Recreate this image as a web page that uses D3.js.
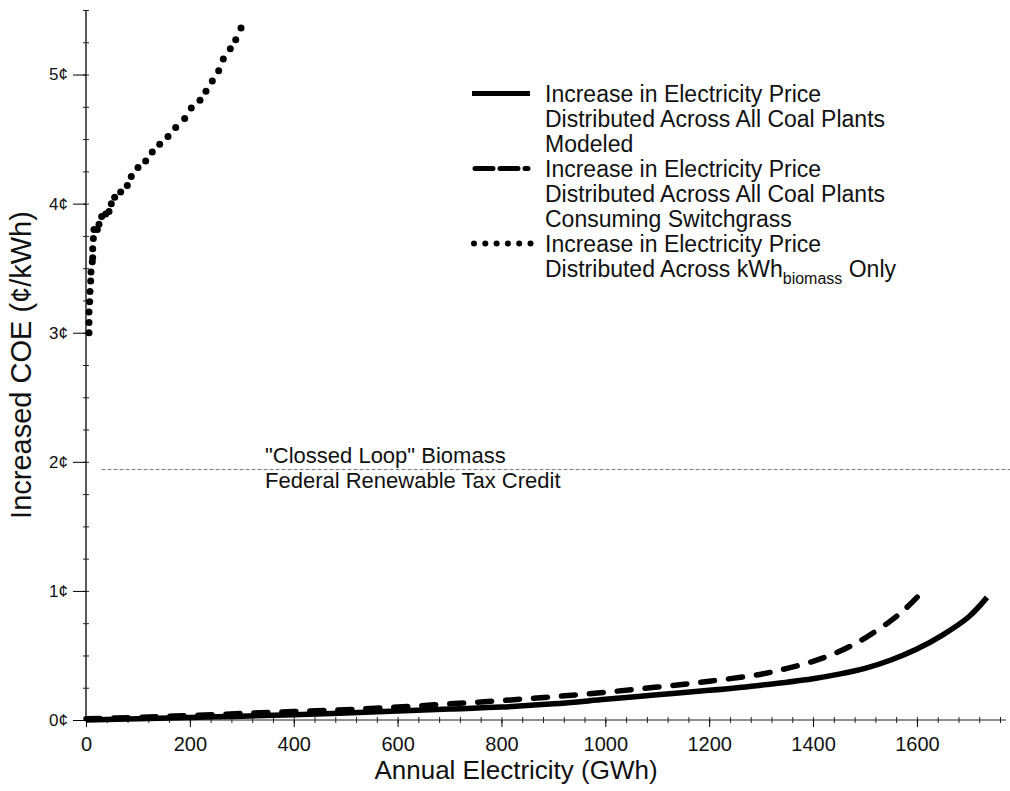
<!DOCTYPE html>
<html>
<head>
<meta charset="utf-8">
<script src="https://cdn.jsdelivr.net/npm/d3@7"></script>
<style>
  body { margin: 0; background: #fff; }
  svg, svg text { font-family: "Liberation Sans", Arial, sans-serif; }
</style>
</head>
<body>
<div class="chart"></div>
<script>
// increase in price spread over all coal plants modeled (solid)
const allPlantsGWh = [0, 100, 200, 300, 400, 500, 600, 700, 800, 900, 1000, 1100, 1200, 1300, 1400, 1450, 1500, 1550, 1600, 1650, 1700, 1735];
const allPlantsCOE = [0, 0.01, 0.02, 0.03, 0.04, 0.055, 0.07, 0.085, 0.10, 0.125, 0.16, 0.195, 0.23, 0.27, 0.32, 0.355, 0.40, 0.465, 0.55, 0.66, 0.80, 0.95];

// spread over coal plants consuming switchgrass (dashed)
const switchGWh = [0, 100, 200, 300, 400, 500, 600, 700, 800, 900, 1000, 1100, 1200, 1300, 1350, 1400, 1450, 1500, 1550, 1580, 1612];
const switchCOE = [0.01, 0.02, 0.035, 0.05, 0.065, 0.08, 0.10, 0.125, 0.15, 0.18, 0.215, 0.255, 0.30, 0.355, 0.40, 0.455, 0.53, 0.635, 0.77, 0.87, 1.0];

// spread over kWh from biomass only (dots)
const biomassGWh = [5.8, 5.8, 5.8, 7.1, 7.7, 9.0, 9.6, 12.1, 12.9, 12.9, 14.1, 15.4, 21.8, 25.0, 30.2, 37.9, 44.3, 48.7, 55.2, 66.8, 79.5, 87.2, 100.1, 114.9, 127.6, 141.9, 157.9, 172.7, 190.0, 202.7, 219.5, 231.0, 243.2, 255.5, 264.4, 277.9, 288.3, 298.5];
const biomassCOE = [3.00, 3.08, 3.16, 3.24, 3.32, 3.40, 3.47, 3.55, 3.58, 3.65, 3.73, 3.80, 3.80, 3.84, 3.90, 3.92, 3.94, 4.00, 4.05, 4.09, 4.14, 4.21, 4.28, 4.33, 4.40, 4.46, 4.52, 4.59, 4.66, 4.74, 4.80, 4.87, 4.95, 5.03, 5.12, 5.20, 5.27, 5.36];

const taxCredit = 1.94;
const taxCreditStart = 30;
const taxCreditLabel = ['"Clossed Loop" Biomass', 'Federal Renewable Tax Credit'];

const xTicks = [0, 200, 400, 600, 800, 1000, 1200, 1400, 1600];
const yTicks = [0, 1, 2, 3, 4, 5];

const legendLabels = [
  ["Increase in Electricity Price", "Distributed Across All Coal Plants", "Modeled"],
  ["Increase in Electricity Price", "Distributed Across All Coal Plants", "Consuming Switchgrass"],
  ["Increase in Electricity Price", "Distributed Across kWh"]
];

const width = 1010, height = 791;

const svg = d3.select(".chart")
  .append("svg")
  .attr("width", width)
  .attr("height", height);

const xScale = d3.scaleLinear().domain([0, 1760]).range([86, 1000]);
const yScale = d3.scaleLinear().domain([0, 5.5]).range([720, 10]);

// x axis: minor crosses every 40, major ticks with labels every 200
svg.append("g")
  .attr("transform", "translate(0,717)")
  .call(d3.axisBottom(xScale).tickValues(d3.range(0, 1761, 40)).tickSize(6).tickFormat(""))
  .call(g => g.select(".domain").remove())
  .call(g => g.selectAll("line").attr("stroke", "#222"));

const xAxis = svg.append("g")
  .attr("class", "axis x-axis")
  .attr("transform", "translate(0,720)")
  .call(d3.axisBottom(xScale).tickValues(xTicks).tickSize(7).tickPadding(10).tickFormat(d3.format("d")))
  .call(g => g.select(".domain").attr("d", "M86,0H1006").attr("stroke", "#222"));
xAxis.selectAll("text").style("font-size", "20px").attr("fill", "#111");

// y axis
svg.append("g")
  .attr("transform", "translate(89,0)")
  .call(d3.axisLeft(yScale).tickValues(d3.range(0, 5.51, 0.25)).tickSize(6).tickFormat(""))
  .call(g => g.select(".domain").remove())
  .call(g => g.selectAll("line").attr("stroke", "#222"));

const yAxis = svg.append("g")
  .attr("class", "axis y-axis")
  .attr("transform", "translate(86,0)")
  .call(d3.axisLeft(yScale).tickValues(yTicks).tickSize(13).tickPadding(5).tickFormat(d => d + "¢"))
  .call(g => g.select(".domain").attr("d", "M0,720V10").attr("stroke", "#222").attr("stroke-width", 1.5));
yAxis.selectAll("text").style("font-size", "17px").attr("fill", "#111");

// axis titles
svg.append("text")
  .attr("x", 516)
  .attr("y", 779)
  .attr("text-anchor", "middle")
  .style("font-size", "26px")
  .attr("fill", "#111")
  .text("Annual Electricity (GWh)");

svg.append("text")
  .attr("transform", "translate(31,365) rotate(-90)")
  .attr("text-anchor", "middle")
  .style("font-size", "29px")
  .attr("fill", "#111")
  .text("Increased COE (¢/kWh)");

// tax credit reference line
svg.append("line")
  .attr("x1", xScale(taxCreditStart))
  .attr("x2", width)
  .attr("y1", yScale(taxCredit))
  .attr("y2", yScale(taxCredit))
  .attr("stroke", "#777")
  .attr("stroke-width", 1)
  .attr("stroke-dasharray", "4,2");

svg.append("g")
  .selectAll("text")
  .data(taxCreditLabel)
  .join("text")
  .attr("x", 265)
  .attr("y", (d, i) => 463 + i * 25)
  .style("font-size", "22px")
  .attr("fill", "#111")
  .text(d => d);

// series
const line = d3.line()
  .x(d => xScale(d[0]))
  .y(d => yScale(d[1]))
  .curve(d3.curveCatmullRom);

svg.append("path")
  .datum(d3.zip(allPlantsGWh, allPlantsCOE))
  .attr("fill", "none")
  .attr("stroke", "#000")
  .attr("stroke-width", 5.5)
  .attr("d", line);

svg.append("path")
  .datum(d3.zip(switchGWh, switchCOE))
  .attr("fill", "none")
  .attr("stroke", "#000")
  .attr("stroke-width", 5.5)
  .attr("stroke-linecap", "round")
  .attr("stroke-dasharray", "14,14")
  .attr("d", line);

svg.append("g")
  .selectAll("circle")
  .data(d3.zip(biomassGWh, biomassCOE))
  .join("circle")
  .attr("cx", d => xScale(d[0]))
  .attr("cy", d => yScale(d[1]))
  .attr("r", 3.5)
  .attr("fill", "#000");

// legend
const legend = svg.append("g").attr("transform", "translate(472,0)");
let row = 0;
legendLabels.forEach((lines, i) => {
  const base = 101.5 + row * 25;
  const sy = base - 8;
  if (i === 0) {
    legend.append("line").attr("x1", 0).attr("x2", 58).attr("y1", sy).attr("y2", sy)
      .attr("stroke", "#000").attr("stroke-width", 5);
  } else if (i === 1) {
    legend.append("line").attr("x1", 3).attr("x2", 56).attr("y1", sy).attr("y2", sy)
      .attr("stroke", "#000").attr("stroke-width", 5)
      .attr("stroke-linecap", "round").attr("stroke-dasharray", "18,7");
  } else {
    legend.append("g").selectAll("circle")
      .data(d3.range(6))
      .join("circle")
      .attr("cx", k => 2 + k * 11.3)
      .attr("cy", sy)
      .attr("r", 3)
      .attr("fill", "#000");
  }
  lines.forEach((t, j) => {
    const txt = legend.append("text")
      .attr("x", 73)
      .attr("y", base + j * 25)
      .style("font-size", "23px")
      .attr("fill", "#111")
      .text(t);
    if (i === 2 && j === lines.length - 1) {
      txt.append("tspan").style("font-size", "16px").attr("dy", 7).text("biomass");
      txt.append("tspan").attr("dy", -7).text(" Only");
    }
  });
  row += lines.length;
});
</script>
</body>
</html>
